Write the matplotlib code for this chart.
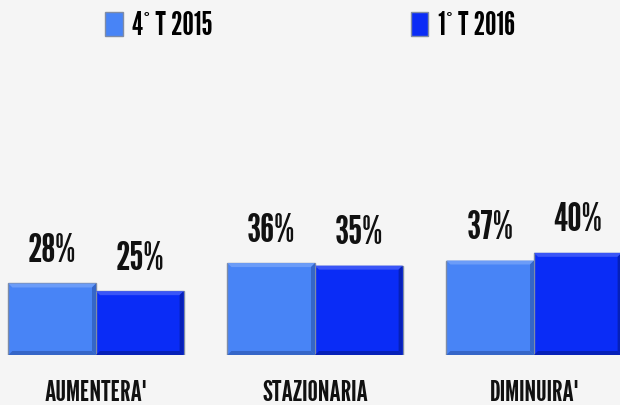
import matplotlib.pyplot as plt
import numpy as np
from matplotlib.patches import Patch, Polygon

categories = ["AUMENTERA'", "STAZIONARIA", "DIMINUIRA'"]
series = ["4° T 2015", "1° T 2016"]
q4_2015 = [28, 36, 37]
q1_2016 = [25, 35, 40]

colors = ["#4884F6", "#0A2CF6"]
tops = ["#6B9CF8", "#3A55F7"]
shades = ["#3566C8", "#0620B8"]
edge = "#7F8CA6"
bg = "#F5F5F5"
font = ["League Gothic", "DejaVu Sans"]

fig = plt.figure(figsize=(6.2, 4.05), dpi=100, facecolor=bg)
ax = fig.add_axes([0, 50 / 405, 1, 355 / 405])
ax.set_facecolor(bg)
ax.set_xlim(-96 / 219, 524 / 219)
ax.set_ylim(0, 139)
ax.axis("off")

# bevel size in data units (about 4 px)
bx = 4 / 219
by = 4 / 355 * 139

x = np.arange(len(categories))
w = 0.4
for i, vals in enumerate([q4_2015, q1_2016]):
    pos = x - w / 2 + i * w
    bars = ax.bar(pos, vals, width=w, color=colors[i], edgecolor=edge, linewidth=1.0, zorder=2)
    for b, v in zip(bars, vals):
        x0, x1, h = b.get_x(), b.get_x() + b.get_width(), b.get_height()
        # simple bevel: light top band, darker right/bottom bands
        ax.add_patch(Polygon([(x0, h), (x1, h), (x1 - bx, h - by), (x0 + bx, h - by)],
                             closed=True, facecolor=tops[i], edgecolor="none", zorder=3))
        ax.add_patch(Polygon([(x1, h), (x1, 0), (x1 - bx, by), (x1 - bx, h - by)],
                             closed=True, facecolor=shades[i], edgecolor="none", zorder=3))
        ax.add_patch(Polygon([(x0, 0), (x1, 0), (x1 - bx, by), (x0 + bx, by)],
                             closed=True, facecolor=shades[i], edgecolor="none", zorder=3))
        ax.annotate(f"{v}%", ((x0 + x1) / 2, h), xytext=(0, 15.5), textcoords="offset points",
                    ha="center", va="baseline", fontsize=29, family=font,
                    color="#111111")

for xi, c in zip(x, categories):
    ax.annotate(c, (xi, 0), xytext=(0, -33), textcoords="offset points",
                ha="center", va="baseline", fontsize=21, family=font,
                color="#111111", annotation_clip=False)

handles = [Patch(facecolor=c, edgecolor=edge, label=s) for c, s in zip(colors, series)]
fig.legend(handles=handles, loc="center", bbox_to_anchor=(0.5, 1 - 26 / 405),
           ncol=2, frameon=False, handlelength=0.55, handleheight=0.75,
           handletextpad=0.3, columnspacing=6.2,
           prop={"family": font, "size": 23})

fig.savefig("out.png", dpi=100, facecolor=bg)
